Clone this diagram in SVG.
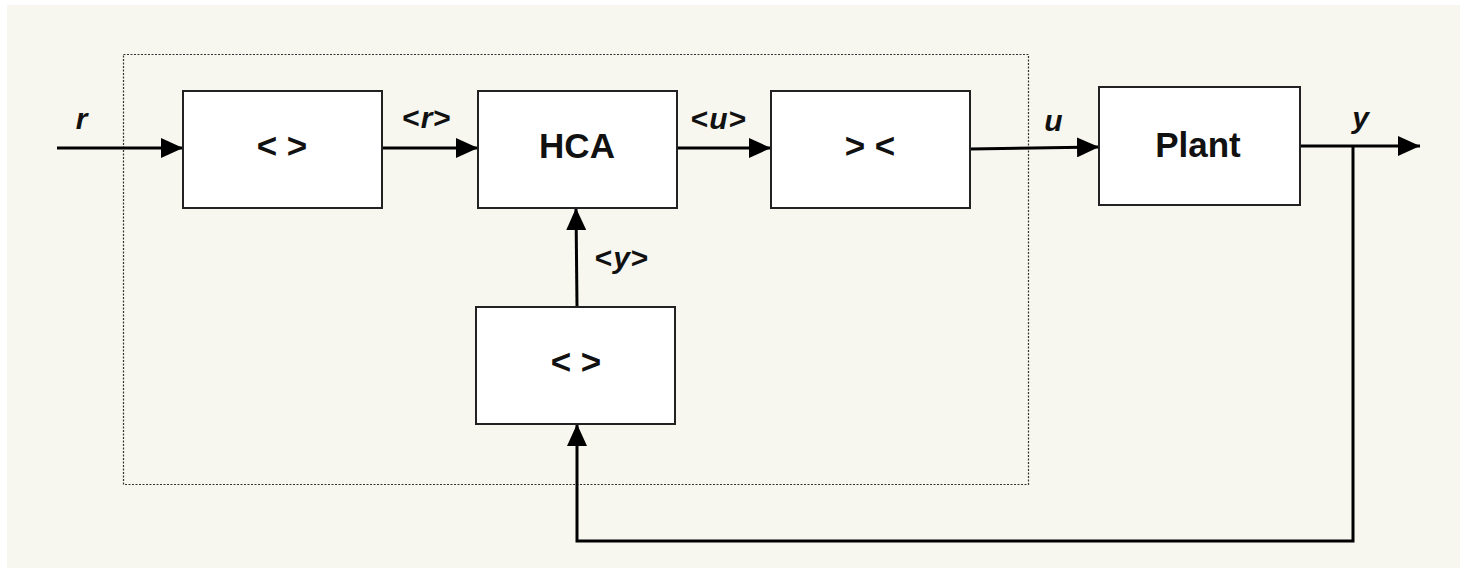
<svg xmlns="http://www.w3.org/2000/svg" width="1466" height="572" viewBox="0 0 1466 572">
<defs>
<marker id="ah" viewBox="0 0 22 20" refX="22" refY="10" markerWidth="22" markerHeight="20" markerUnits="userSpaceOnUse" orient="auto">
<path d="M0,0 L22,10 L0,20 Z" fill="#000"/>
</marker>
<style>
.box{fill:#fff;stroke:#222;stroke-width:2}
.lbl{font-family:"Liberation Sans",Arial,sans-serif;font-weight:bold;font-size:35px;fill:#111;text-anchor:middle}
.sig{font-family:"Liberation Sans",Arial,sans-serif;font-weight:bold;font-size:30px;fill:#111;text-anchor:middle;letter-spacing:1px}
.it{font-style:italic}
.wire{fill:none;stroke:#000;stroke-width:3}
</style>
</defs>
<rect x="0" y="0" width="1466" height="572" fill="#fff"/>
<rect x="7" y="5" width="1453" height="563" fill="#f7f7ef"/>
<rect x="123.5" y="54.5" width="905" height="430" fill="none" stroke="#333" stroke-width="1.2" stroke-dasharray="2,1.5"/>
<g id="connectors">
<line class="wire" x1="57" y1="148" x2="183" y2="148" marker-end="url(#ah)"/>
<line class="wire" x1="382" y1="148" x2="478" y2="148" marker-end="url(#ah)"/>
<line class="wire" x1="677" y1="148" x2="771" y2="148" marker-end="url(#ah)"/>
<line class="wire" x1="970" y1="149" x2="1099" y2="147" marker-end="url(#ah)"/>
<line class="wire" x1="1297" y1="146" x2="1420" y2="146" marker-end="url(#ah)"/>
<line class="wire" x1="577" y1="306" x2="576" y2="208" marker-end="url(#ah)"/>
<polyline class="wire" points="1353,146 1353,541 577,541 577,424" marker-end="url(#ah)"/>
<text class="sig it" x="82" y="129">r</text>
<text class="sig" x="427" y="128">&lt;<tspan class="it">r</tspan>&gt;</text>
<text class="sig" x="719" y="129">&lt;<tspan class="it">u</tspan>&gt;</text>
<text class="sig it" x="1054" y="131">u</text>
<text class="sig it" x="1361" y="128">y</text>
<text class="sig" x="622" y="268">&lt;<tspan class="it">y</tspan>&gt;</text>
</g>
<g id="pre-r"><rect class="box" x="183" y="91" width="199" height="117"/><text class="lbl" x="282" y="158">&lt; &gt;</text></g>
<g id="hca"><rect class="box" x="478" y="91" width="199" height="117"/><text class="lbl" x="577" y="158">HCA</text></g>
<g id="post-u"><rect class="box" x="771" y="91" width="199" height="117"/><text class="lbl" x="870" y="158">&gt; &lt;</text></g>
<g id="plant"><rect class="box" x="1099" y="87" width="201" height="118"/><text class="lbl" x="1198" y="157">Plant</text></g>
<g id="pre-y"><rect class="box" x="476" y="307" width="199" height="117"/><text class="lbl" x="576" y="374">&lt; &gt;</text></g>
</svg>
